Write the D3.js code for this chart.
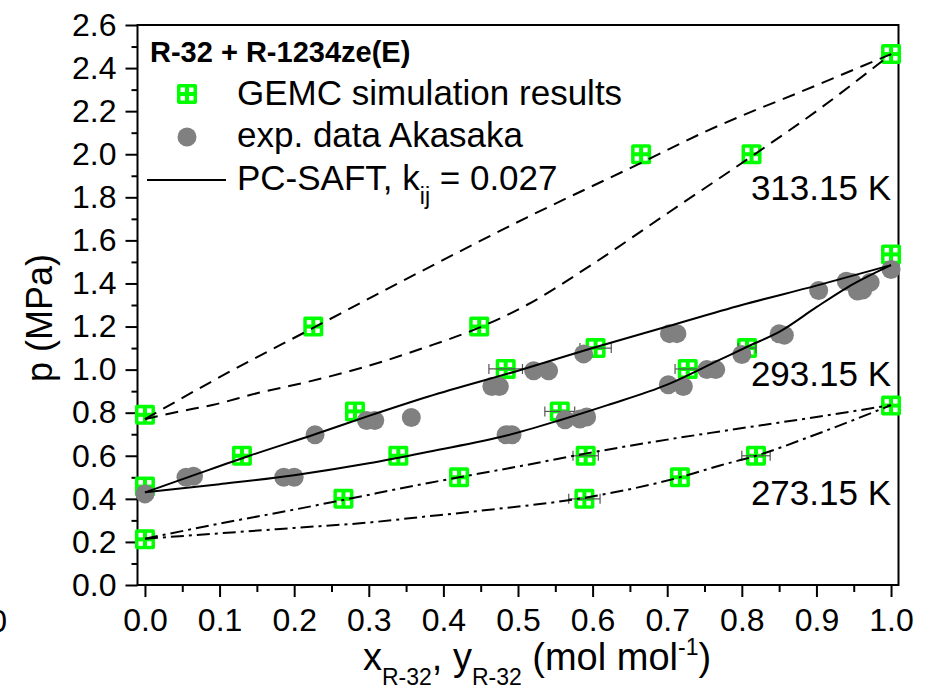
<!DOCTYPE html>
<html>
<head>
<meta charset="utf-8">
<script src="https://cdn.jsdelivr.net/npm/d3@7"></script>
<style>
  body { margin: 0; background: #fff; }
  text { font-family: "Liberation Sans", Arial, sans-serif; fill: #000; }
</style>
</head>
<body>
<div id="chart"></div>
<script>
// tick labels
var xTicks = [0, 0.1, 0.2, 0.3, 0.4, 0.5, 0.6, 0.7, 0.8, 0.9, 1.0];
var yTicks = [0, 0.2, 0.4, 0.6, 0.8, 1.0, 1.2, 1.4, 1.6, 1.8, 2.0, 2.2, 2.4, 2.6];

// GEMC simulation results (x or y of R-32, p in MPa, x error)
var gemcX   = [0, 0.2256, 0.448, 0.665, 0.813, 1.0,
               0, 0.13, 0.2815, 0.4835, 0.556, 0.604, 0.7275, 0.807, 1.0,
               0, 0.266, 0.3396, 0.421, 0.589, 0.5907, 0.717, 0.819, 1.0];
var gemcP   = [0.79, 1.20, 1.20, 2.00, 2.00, 2.465,
               0.457, 0.60, 0.806, 1.003, 0.806, 1.10, 1.003, 1.10, 1.535,
               0.212, 0.40, 0.60, 0.50, 0.40, 0.60, 0.50, 0.60, 0.833];
var gemcErr = [0, 0, 0, 0, 0, 0,
               0, 0, 0, 0.0225, 0.02, 0.021, 0.017, 0.012, 0,
               0, 0, 0, 0, 0.021, 0.017, 0, 0.019, 0];

// experimental data Akasaka
var expX = [0, 0.055, 0.065, 0.228, 0.297, 0.308, 0.357, 0.465, 0.475, 0.521, 0.541,
            0.588, 0.703, 0.713, 0.903, 0.94, 0.948, 0.955, 0.962, 0.972, 1.0,
            0.186, 0.2, 0.484, 0.492, 0.563, 0.583, 0.592, 0.7015, 0.7216,
            0.753, 0.765, 0.80, 0.85, 0.857];
var expP = [0.423, 0.50, 0.505, 0.698, 0.764, 0.764, 0.778, 0.922, 0.922, 0.995, 0.995,
            1.073, 1.167, 1.167, 1.367, 1.41, 1.405, 1.365, 1.37, 1.405, 1.465,
            0.50, 0.50, 0.698, 0.698, 0.767, 0.771, 0.78, 0.93, 0.922,
            1.0, 1.0, 1.07, 1.166, 1.16];

// PC-SAFT, 313.15 K
var bub313X = [0, 0.1, 0.2235, 0.35, 0.5117, 0.665, 0.748, 0.9, 1.0];
var bub313P = [0.77, 0.965, 1.19, 1.42, 1.706, 1.96, 2.10, 2.32, 2.465];
var dew313X = [0, 0.047, 0.092, 0.15, 0.212, 0.266, 0.319, 0.373, 0.448, 0.5117, 0.6, 0.7, 0.813, 0.9, 1.0];
var dew313P = [0.77, 0.806, 0.837, 0.89, 0.938, 0.985, 1.038, 1.10, 1.195, 1.30, 1.49, 1.725, 1.99, 2.2, 2.465];
// PC-SAFT, 293.15 K
var bub293X = [0, 0.06, 0.14, 0.228, 0.3, 0.38, 0.5, 0.6, 0.7, 0.8, 0.9, 1.0];
var bub293P = [0.43, 0.503, 0.6, 0.70, 0.785, 0.875, 0.995, 1.10, 1.20, 1.30, 1.39, 1.485];
var dew293X = [0, 0.1, 0.2, 0.3, 0.382, 0.486, 0.556, 0.62, 0.7, 0.77, 0.8065, 0.8525, 0.9, 0.9406, 1.0];
var dew293P = [0.43, 0.468, 0.51, 0.565, 0.62, 0.695, 0.765, 0.835, 0.93, 1.045, 1.105, 1.18, 1.29, 1.38, 1.485];
// PC-SAFT, 273.15 K
var bub273X = [0, 0.1, 0.2, 0.266, 0.382, 0.421, 0.5, 0.59, 0.7, 0.7708, 0.9, 1.0];
var bub273P = [0.215, 0.285, 0.35, 0.395, 0.475, 0.50, 0.55, 0.61, 0.675, 0.713, 0.78, 0.835];
var dew273X = [0, 0.1, 0.2, 0.3, 0.3686, 0.45, 0.589, 0.65, 0.717, 0.7708, 0.819, 0.9, 1.0];
var dew273P = [0.215, 0.24, 0.265, 0.29, 0.315, 0.345, 0.405, 0.445, 0.50, 0.555, 0.60, 0.70, 0.835];

var width = 930, height = 695;
var margin = {top: 25, bottom: 110, left: 137.5, right: 31.5};

var svg = d3.select('#chart')
            .append('svg')
            .attr('width', width)
            .attr('height', height);

var xScale = d3.scaleLinear()
               .domain([-0.01, 1.01])
               .range([margin.left, width - margin.right]);
var yScale = d3.scaleLinear()
               .domain([0, 2.6])
               .range([height - margin.bottom, margin.top]);

var fmt = d3.format('.1f');

// minor ticks
svg.append('g')
   .attr('transform', `translate(0,${height - margin.bottom})`)
   .call(d3.axisBottom(xScale).tickValues(xTicks.slice(0, -1).map(function(d) { return d + 0.05; }))
           .tickSize(7).tickFormat(''));
svg.append('g')
   .attr('transform', `translate(${margin.left},0)`)
   .call(d3.axisLeft(yScale).tickValues(yTicks.slice(0, -1).map(function(d) { return d + 0.1; }))
           .tickSize(6).tickFormat(''));

// major ticks and labels
svg.append('g')
   .attr('transform', `translate(0,${height - margin.bottom})`)
   .call(d3.axisBottom(xScale).tickValues(xTicks).tickSize(12).tickPadding(11).tickFormat(fmt));
svg.append('g')
   .attr('transform', `translate(${margin.left},0)`)
   .call(d3.axisLeft(yScale).tickValues(yTicks).tickSize(12).tickPadding(9).tickFormat(fmt));

svg.selectAll('.domain').remove();
svg.selectAll('.tick line').attr('stroke', '#000').attr('stroke-width', 2);
svg.selectAll('.tick text').attr('font-size', 32).style('font-family', '"Liberation Sans", Arial, sans-serif').attr('fill', '#000');

// frame
svg.append('rect')
   .attr('x', margin.left).attr('y', margin.top)
   .attr('width', width - margin.right - margin.left)
   .attr('height', height - margin.bottom - margin.top)
   .attr('fill', 'none').attr('stroke', '#000').attr('stroke-width', 2);

// clipped tick label of neighbouring panel
svg.append('text').attr('x', 7).attr('y', 632).attr('text-anchor', 'end')
   .attr('font-size', 32).text('1.0');

// axis titles
var xt = svg.append('text').attr('x', 537).attr('y', 670).attr('text-anchor', 'middle').attr('font-size', 38);
xt.append('tspan').text('x');
xt.append('tspan').attr('font-size', 23).attr('dy', 15).text('R-32');
xt.append('tspan').attr('dy', -15).text(', y');
xt.append('tspan').attr('font-size', 23).attr('dy', 15).text('R-32');
xt.append('tspan').attr('dy', -15).text(' (mol mol');
xt.append('tspan').attr('font-size', 23).attr('dy', -15).text('-1');
xt.append('tspan').attr('dy', 15).text(')');

svg.append('text')
   .attr('transform', 'translate(52,318) rotate(-90)')
   .attr('text-anchor', 'middle').attr('font-size', 36)
   .text('p (MPa)');

// PC-SAFT lines
var line = d3.line()
             .x(function(d) { return xScale(d[0]); })
             .y(function(d) { return yScale(d[1]); })
             .curve(d3.curveMonotoneX);
var curves = [
  {x: bub313X, p: bub313P, dash: '13,8'},
  {x: dew313X, p: dew313P, dash: '13,8'},
  {x: bub293X, p: bub293P, dash: null},
  {x: dew293X, p: dew293P, dash: null},
  {x: bub273X, p: bub273P, dash: '13,5,3,5'},
  {x: dew273X, p: dew273P, dash: '13,5,3,5'}
];

var gemc = gemcX.map(function(x, i) { return {x: x, p: gemcP[i], e: gemcErr[i]}; });
var exp = expX.map(function(x, i) { return {x: x, p: expP[i]}; });

// GEMC squares
function square(g) {
  g.append('rect').attr('x', -10).attr('y', -10).attr('width', 20).attr('height', 20)
   .attr('rx', 2).attr('fill', '#00ff00');
  [[-6.5, -6.5], [2, -6.5], [-6.5, 2], [2, 2]].forEach(function(o) {
    g.append('rect').attr('x', o[0]).attr('y', o[1]).attr('width', 4.5).attr('height', 4.5).attr('fill', '#fff');
  });
}
svg.selectAll('g.gemc')
   .data(gemc)
   .enter()
   .append('g')
   .attr('class', 'gemc')
   .attr('transform', function(d) { return `translate(${xScale(d.x)},${yScale(d.p)})`; })
   .each(function() { square(d3.select(this)); });

// error bars
var eb = svg.selectAll('g.err')
   .data(gemc.filter(function(d) { return d.e > 0; }))
   .enter()
   .append('g')
   .attr('class', 'err')
   .attr('stroke', '#555').attr('stroke-width', 1.2);
eb.append('line')
  .attr('x1', function(d) { return xScale(d.x - d.e); })
  .attr('x2', function(d) { return xScale(d.x + d.e); })
  .attr('y1', function(d) { return yScale(d.p); })
  .attr('y2', function(d) { return yScale(d.p); });
eb.append('line')
  .attr('x1', function(d) { return xScale(d.x - d.e); })
  .attr('x2', function(d) { return xScale(d.x - d.e); })
  .attr('y1', function(d) { return yScale(d.p) - 5; })
  .attr('y2', function(d) { return yScale(d.p) + 5; });
eb.append('line')
  .attr('x1', function(d) { return xScale(d.x + d.e); })
  .attr('x2', function(d) { return xScale(d.x + d.e); })
  .attr('y1', function(d) { return yScale(d.p) - 5; })
  .attr('y2', function(d) { return yScale(d.p) + 5; });

// experimental circles
svg.selectAll('circle.exp')
   .data(exp)
   .enter()
   .append('circle')
   .attr('class', 'exp')
   .attr('cx', function(d) { return xScale(d.x); })
   .attr('cy', function(d) { return yScale(d.p); })
   .attr('r', 9.5)
   .attr('fill', '#808080');

svg.selectAll('path.curve')
   .data(curves)
   .enter()
   .append('path')
   .attr('class', 'curve')
   .attr('d', function(c) { return line(c.x.map(function(x, i) { return [x, c.p[i]]; })); })
   .attr('fill', 'none')
   .attr('stroke', '#000')
   .attr('stroke-width', 2)
   .attr('stroke-dasharray', function(c) { return c.dash; });

// temperature labels
svg.append('text').attr('x', 891).attr('y', 200).attr('text-anchor', 'end').attr('font-size', 35).text('313.15 K');
svg.append('text').attr('x', 891).attr('y', 386).attr('text-anchor', 'end').attr('font-size', 35).text('293.15 K');
svg.append('text').attr('x', 891).attr('y', 505).attr('text-anchor', 'end').attr('font-size', 35).text('273.15 K');

// legend
svg.append('text').attr('x', 150).attr('y', 62).attr('font-size', 29).attr('font-weight', 'bold')
   .text('R-32 + R-1234ze(E)');
var lg = svg.append('g').attr('transform', 'translate(187,94)');
square(lg);
svg.append('text').attr('x', 237).attr('y', 105).attr('font-size', 35).text('GEMC simulation results');
svg.append('circle').attr('cx', 187).attr('cy', 137).attr('r', 9.5).attr('fill', '#808080');
svg.append('text').attr('x', 237).attr('y', 147).attr('font-size', 35).text('exp. data Akasaka');
svg.append('line').attr('x1', 147).attr('x2', 226).attr('y1', 180).attr('y2', 180)
   .attr('stroke', '#000').attr('stroke-width', 2);
var lt = svg.append('text').attr('x', 237).attr('y', 190).attr('font-size', 35);
lt.append('tspan').text('PC-SAFT, k');
lt.append('tspan').attr('font-size', 23).attr('dy', 14).text('ij');
lt.append('tspan').attr('dy', -14).text(' = 0.027');
</script>
</body>
</html>
